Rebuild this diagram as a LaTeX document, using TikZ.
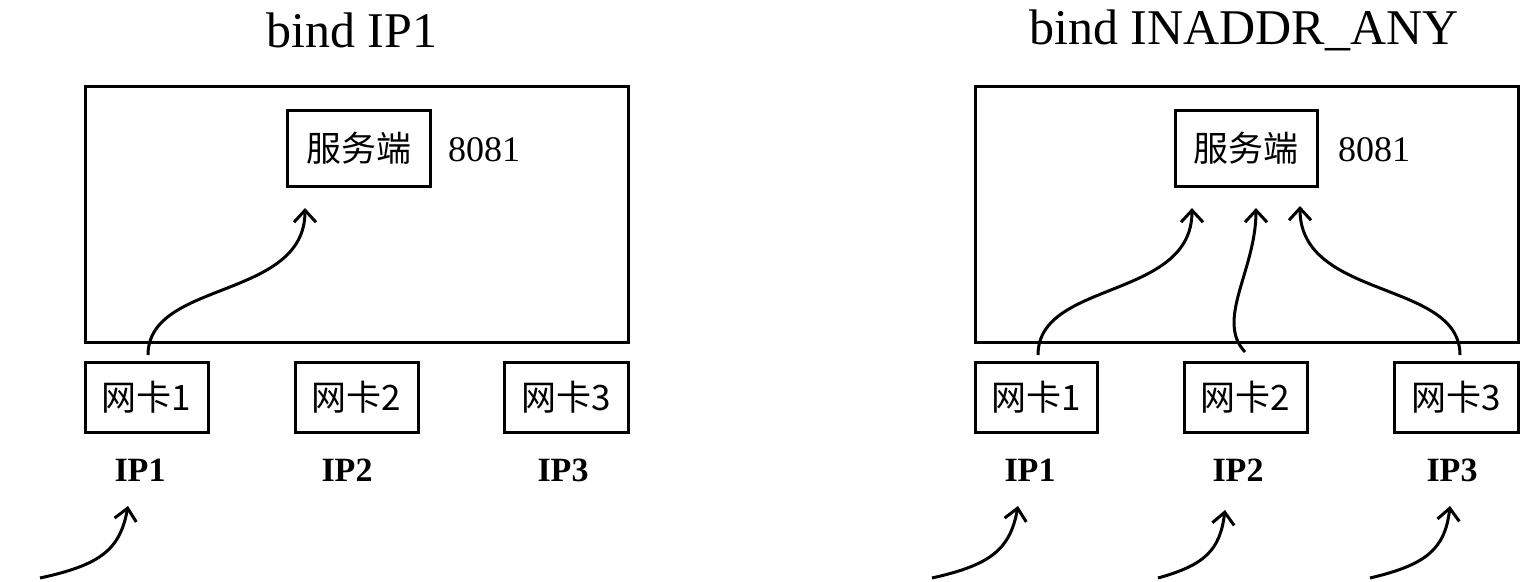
\documentclass[tikz,border=0pt]{standalone}
\usepackage{fontspec}
\setmainfont{Liberation Serif}
\newfontfamily\cjk{Noto Sans CJK SC}
\usetikzlibrary{arrows.meta}
\begin{document}
\begin{tikzpicture}[x=1pt,y=-1pt,line width=3pt,
  box/.style={draw,line width=3pt},
  lbl/.style={font=\fontsize{35}{37}\selectfont},
  num/.style={font=\fontsize{36}{38}\selectfont},
  ipl/.style={font=\fontsize{34}{36}\selectfont\bfseries},
  ttl/.style={font=\fontsize{50}{52}\selectfont},
  arr/.style={-{Straight Barb[length=12pt,width=22pt,line width=3pt]},line width=3pt}]
\useasboundingbox (0,0) rectangle (1526,581);
% left
\node[ttl] (t1) at (352,30) {bind IP1};
\draw[box] (85,86) rectangle (628,342);
\node[box,minimum width=143pt,minimum height=76pt,lbl] (s1) at (358.5,148) {\cjk 服务端};
\node[num] (p1) at (484,150) {8081};
\node[box,minimum width=123pt,minimum height=70pt,lbl] (a1) at (146.5,397) {\cjk 网卡1};
\node[box,minimum width=123pt,minimum height=70pt,lbl] (a2) at (356.5,397) {\cjk 网卡2};
\node[box,minimum width=124pt,minimum height=70pt,lbl] (a3) at (566,397) {\cjk 网卡3};
\node[ipl] (i1) at (140,470) {IP1};
\node[ipl] (i2) at (347,470) {IP2};
\node[ipl] (i3) at (563,470) {IP3};
\coordinate (e1) at (148,355);
\coordinate (f1) at (305,208);
\draw[arr] (e1) .. controls (148,280) and (305,300) .. (f1);
\coordinate (g1) at (40,578);
\coordinate (h1) at (128,506);
\draw[arr] (g1) .. controls (100,565) and (120,550) .. (h1);
% right
\node[ttl] (t2) at (1244,30) {bind INADDR\_ANY};
\draw[box] (975,86) rectangle (1518,342);
\node[box,minimum width=142pt,minimum height=76pt,lbl] (s2) at (1246,148) {\cjk 服务端};
\node[num] (p2) at (1374,150) {8081};
\node[box,minimum width=122pt,minimum height=70pt,lbl] (b1) at (1036,397) {\cjk 网卡1};
\node[box,minimum width=123pt,minimum height=70pt,lbl] (b2) at (1245.5,397) {\cjk 网卡2};
\node[box,minimum width=124pt,minimum height=70pt,lbl] (b3) at (1456,397) {\cjk 网卡3};
\node[ipl] (j1) at (1030,470) {IP1};
\node[ipl] (j2) at (1238,470) {IP2};
\node[ipl] (j3) at (1452,470) {IP3};
\coordinate (e2) at (1038,355);
\coordinate (f2) at (1192,208);
\draw[arr] (e2) .. controls (1038,280) and (1192,300) .. (f2);
\coordinate (e3) at (1245,352);
\coordinate (f3) at (1256,208);
\draw[arr] (e3) .. controls (1215,320) and (1256,270) .. (f3);
\coordinate (e4) at (1460,355);
\coordinate (f4) at (1300,206);
\draw[arr] (e4) .. controls (1460,280) and (1300,300) .. (f4);
\coordinate (g2) at (932,578);
\coordinate (h2) at (1018,506);
\draw[arr] (g2) .. controls (990,565) and (1010,550) .. (h2);
\coordinate (g3) at (1158,578);
\coordinate (h3) at (1225,510);
\draw[arr] (g3) .. controls (1205,565) and (1220,550) .. (h3);
\coordinate (g4) at (1370,578);
\coordinate (h4) at (1450,506);
\draw[arr] (g4) .. controls (1425,565) and (1445,550) .. (h4);
\end{tikzpicture}
\end{document}
